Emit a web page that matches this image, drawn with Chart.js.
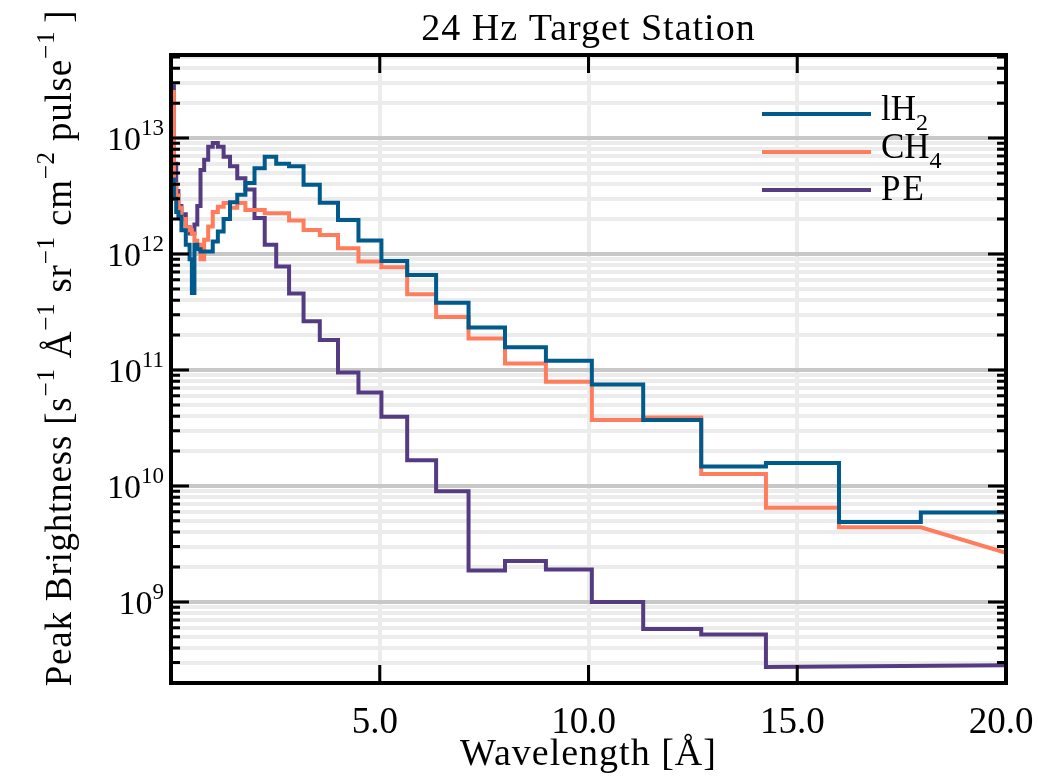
<!DOCTYPE html>
<html>
<head>
<meta charset="utf-8">
<script src="https://cdn.jsdelivr.net/npm/chart.js@4.4.1/dist/chart.umd.min.js"></script>
<style>
  html, body { margin: 0; padding: 0; background: #fff; }
  #wrap { width: 1038px; height: 781px; }
</style>
</head>
<body>
<div id="wrap"><canvas id="peakChart" width="1038" height="781"></canvas></div>
<script>
// Wavelength bin edges [A] (six bins per octave above 0.5 A)
const binEdges = [0.03, 0.07, 0.125, 0.177, 0.25, 0.354, 0.445, 0.5, 0.561, 0.63, 0.707, 0.794,
    0.891, 1.0, 1.122, 1.26, 1.414, 1.587, 1.782, 2.0, 2.245, 2.52, 2.828, 3.175, 3.564, 4.0,
    4.49, 5.04, 5.657, 6.35, 7.127, 8.0, 8.98, 10.08, 11.31, 12.7, 14.25, 16.0, 17.96, 20.16];

// Peak brightness per bin
const lh2Values = [4.4e12, 3.0e12, 2.3e12, 2.1e12, 1.6e12, 1.2e12, 9e11, 4.6e11, 1.2e12, 1.1e12,
    1.05e12, 1.05e12, 1.05e12, 1.28e12, 1.56e12, 2.0e12, 2.8e12, 3.24e12, 4.1e12, 5.5e12, 6.9e12,
    6.0e12, 5.7e12, 3.95e12, 2.77e12, 1.96e12, 1.31e12, 8.7e11, 6.6e11, 3.8e11, 2.33e11, 1.57e11,
    1.2e11, 7.5e10, 3.7e10, 1.47e10, 1.58e10, 4.9e9, 5.9e9];
const ch4Values = [2.5e13, 4.0e12, 3.2e12, 2.5e12, 2.0e12, 1.7e12, 1.6e12, 1.5e12, 1.3e12, 1.2e12,
    9e11, 1.33e12, 1.73e12, 2.3e12, 2.56e12, 2.75e12, 2.5e12, 2.75e12, 2.4e12, 2.4e12, 2.25e12,
    2.25e12, 1.95e12, 1.61e12, 1.46e12, 1.12e12, 8.6e11, 7.7e11, 4.5e11, 2.87e11, 1.87e11, 1.14e11,
    7.9e10, 3.7e10, 3.9e10, 1.27e10, 6.5e9, 4.4e9];
const peValues = [2.8e13, 6.0e12, 3.5e12, 2.6e12, 2.2e12, 1.7e12, 1.5e12, 1.5e12, 1.8e12, 2.6e12,
    5.3e12, 6.5e12, 8.4e12, 9.05e12, 8.4e12, 6.9e12, 5.7e12, 4.5e12, 3.6e12, 2.04e12, 1.2e12,
    7.8e11, 4.57e11, 2.63e11, 1.81e11, 9.5e10, 6.4e10, 3.95e10, 1.67e10, 9.0e9, 1.87e9, 2.25e9,
    1.9e9, 1.0e9, 5.85e8, 5.25e8];

// CH4 and PE finish on a straight segment instead of a step
const ch4TailX = [17.96, 20.0];
const ch4TailY = [4.4e9, 2.65e9];
const peTailX = [14.25, 20.0];
const peTailY = [2.75e8, 2.85e8];

const seriesNames = ['lH2', 'CH4', 'PE'];
const seriesColors = ['#005a8c', '#ff7c5c', '#553c82'];

const xTicks = [0, 5, 10, 15, 20];
const xTickLabels = ['', '5.0', '10.0', '15.0', '20.0'];
const yDecades = [9, 10, 11, 12, 13];

const SERIF = '"Liberation Serif", "DejaVu Serif", serif';

function stepPoints(values, tailX, tailY) {
    const pts = [];
    values.forEach((v, i) => {
        pts.push({ x: binEdges[i], y: v });
        pts.push({ x: binEdges[i + 1], y: v });
    });
    if (tailX) {
        tailX.forEach((x, i) => pts.push({ x: x, y: tailY[i] }));
    }
    return pts;
}

// draw a run of text pieces: [text, fontSize, yOffset, gapAfter]
function drawPieces(ctx, pieces, x, y, align, spacing) {
    ctx.letterSpacing = (spacing || 0) + 'px';
    let total = 0;
    pieces.forEach(p => {
        ctx.font = p[1] + 'px ' + SERIF;
        total += ctx.measureText(p[0]).width + (p[3] || 0);
    });
    let cx = align === 'right' ? x - total : (align === 'center' ? x - total / 2 : x);
    pieces.forEach(p => {
        ctx.font = p[1] + 'px ' + SERIF;
        ctx.fillText(p[0], cx, y + p[2]);
        cx += ctx.measureText(p[0]).width + (p[3] || 0);
    });
    ctx.letterSpacing = '0px';
}

const decorPlugin = {
    id: 'decor',
    afterDraw(chart) {
        const ctx = chart.ctx;
        const area = chart.chartArea;
        const xs = chart.scales.x;
        const ys = chart.scales.y;
        ctx.save();
        ctx.fillStyle = '#000';
        ctx.strokeStyle = '#000';
        ctx.textBaseline = 'alphabetic';
        ctx.textAlign = 'left';

        // inward ticks, y axis (both sides)
        ys.ticks.forEach(t => {
            const py = ys.getPixelForValue(t.value);
            const len = t.major ? 18 : 9;
            ctx.lineWidth = 3;
            ctx.beginPath();
            ctx.moveTo(area.left, py); ctx.lineTo(area.left + len, py);
            ctx.moveTo(area.right, py); ctx.lineTo(area.right - len, py);
            ctx.stroke();
        });
        // inward ticks, x axis (top and bottom)
        xTicks.forEach(v => {
            const px = xs.getPixelForValue(v);
            ctx.lineWidth = 3;
            ctx.beginPath();
            ctx.moveTo(px, area.bottom); ctx.lineTo(px, area.bottom - 18);
            ctx.moveTo(px, area.top); ctx.lineTo(px, area.top + 18);
            ctx.stroke();
        });

        // frame
        ctx.lineWidth = 4;
        ctx.strokeRect(area.left, area.top, area.right - area.left, area.bottom - area.top);

        // x tick labels
        xTicks.forEach((v, i) => {
            if (!xTickLabels[i]) return;
            drawPieces(ctx, [[xTickLabels[i], 37, 0]], xs.getPixelForValue(v) - 5, area.bottom + 50, 'center');
        });
        // y tick labels 10^n
        yDecades.forEach(e => {
            const py = ys.getPixelForValue(Math.pow(10, e));
            drawPieces(ctx, [['10', 34, 0], [String(e), 23, -15]], 164, py + 12, 'right');
        });

        // title and axis titles
        drawPieces(ctx, [['24 Hz Target Station', 38, 0]], (area.left + area.right) / 2, 40, 'center', 1);
        drawPieces(ctx, [['Wavelength [Å]', 38, 0]], (area.left + area.right) / 2, 765, 'center', 1);

        ctx.save();
        ctx.translate(71, 348);
        ctx.rotate(-Math.PI / 2);
        drawPieces(ctx, [
            ['Peak Brightness [s', 37, 0], ['−1', 25, -17, 10],
            ['Å', 37, 0], ['−1', 25, -17, 10],
            ['sr', 37, 0], ['−1', 25, -17, 10],
            ['cm', 37, 0], ['−2', 25, -17, 10],
            ['pulse', 37, 0], ['−1', 25, -17, 8], [']', 37, 0]
        ], 0, 0, 'center', 0.8);
        ctx.restore();

        // legend
        chart.data.datasets.forEach((ds, i) => {
            const ly = 114 + i * 38;
            ctx.strokeStyle = ds.borderColor;
            ctx.lineWidth = 4;
            ctx.beginPath();
            ctx.moveTo(762, ly); ctx.lineTo(871, ly);
            ctx.stroke();
            const name = seriesNames[i];
            if (name === 'lH2') {
                drawPieces(ctx, [['lH', 35, 0], ['2', 24, 10]], 881, ly + 6, 'left');
            } else if (name === 'CH4') {
                drawPieces(ctx, [['CH', 35, 0], ['4', 24, 10]], 881, ly + 6, 'left');
            } else {
                drawPieces(ctx, [[name, 35, 0]], 881, ly + 10, 'left', 2);
            }
        });
        ctx.restore();
    }
};

const datasets = [
    stepPoints(lh2Values),
    stepPoints(ch4Values, ch4TailX, ch4TailY),
    stepPoints(peValues, peTailX, peTailY)
].map((pts, i) => ({
    label: seriesNames[i],
    data: pts,
    borderColor: seriesColors[i],
    backgroundColor: seriesColors[i],
    borderWidth: 4,
    pointRadius: 0,
    tension: 0,
    fill: false
}));

new Chart(document.getElementById('peakChart'), {
    type: 'line',
    data: { datasets: datasets },
    options: {
        responsive: false,
        animation: false,
        layout: { padding: { left: 0, right: 32, top: 55, bottom: 0 } },
        plugins: { legend: { display: false }, tooltip: { enabled: false } },
        scales: {
            x: {
                type: 'linear',
                min: 0,
                max: 20,
                afterBuildTicks: scale => { scale.ticks = xTicks.map(v => ({ value: v })); },
                afterFit: scale => { scale.height = 98; },
                ticks: { display: false },
                border: { display: false },
                grid: { color: '#ececec', lineWidth: 4, drawTicks: false }
            },
            y: {
                type: 'logarithmic',
                min: 2e8,
                max: 5.2e13,
                afterBuildTicks: scale => {
                    const ticks = [];
                    for (let e = 8; e <= 13; e++) {
                        for (let m = 1; m <= 9; m++) {
                            const v = m * Math.pow(10, e);
                            if (v >= 2e8 && v <= 5.2e13) ticks.push({ value: v, major: m === 1 });
                        }
                    }
                    scale.ticks = ticks;
                },
                afterFit: scale => { scale.width = 171; },
                ticks: { display: false },
                border: { display: false },
                grid: {
                    color: c => (c.tick && c.tick.major) ? '#c8c8c8' : '#ececec',
                    lineWidth: 4,
                    drawTicks: false
                }
            }
        }
    },
    plugins: [decorPlugin]
});
</script>
</body>
</html>
